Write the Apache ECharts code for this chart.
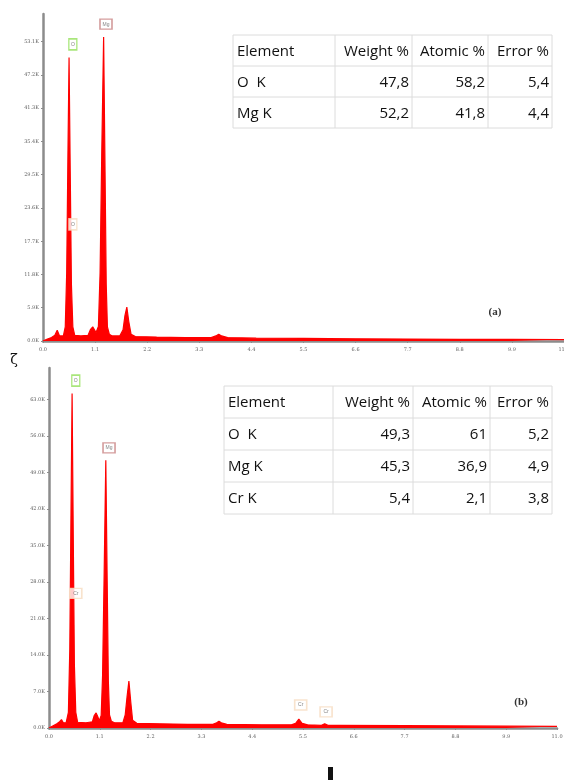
<!DOCTYPE html>
<html>
<head>
<meta charset="utf-8">
<script src="https://cdn.jsdelivr.net/npm/echarts@6/dist/echarts.min.js"></script>
<style>
  html, body { margin: 0; padding: 0; background: #fff; }
  #chart { width: 564px; height: 780px; }
</style>
</head>
<body>
<div id="chart"></div>
<script>
// EDS spectrum (a): [keV, counts in K]
const spectrumA = [
  [0.00, 0], [0.08, 0.3], [0.18, 0.6], [0.25, 1.0], [0.30, 1.9], [0.35, 0.9],
  [0.43, 0.9], [0.47, 2.5], [0.50, 12], [0.525, 32], [0.55, 50.3], [0.575, 30],
  [0.60, 10], [0.63, 2.5], [0.67, 1.0], [0.80, 0.9], [0.95, 1.0], [1.00, 2.0],
  [1.05, 2.5], [1.08, 2.2], [1.12, 1.5], [1.17, 2.6], [1.205, 12], [1.24, 33],
  [1.28, 53.9], [1.31, 30], [1.335, 10], [1.36, 2.5], [1.40, 1.2], [1.46, 0.9],
  [1.62, 0.9], [1.69, 2.0], [1.73, 4.5], [1.77, 6.0], [1.81, 3.5], [1.86, 1.2],
  [1.95, 0.8], [2.40, 0.7], [3.00, 0.6], [3.55, 0.6], [3.65, 0.9], [3.71, 1.2],
  [3.77, 0.9], [3.90, 0.6], [4.50, 0.5], [5.50, 0.45], [6.60, 0.4], [7.70, 0.35],
  [8.80, 0.3], [9.90, 0.3], [11.0, 0.25]
];
// EDS spectrum (b)
const spectrumB = [
  [0.00, 0], [0.08, 0.4], [0.17, 0.8], [0.23, 1.2], [0.27, 1.6], [0.31, 1.0],
  [0.37, 1.0], [0.42, 3], [0.45, 15], [0.475, 40], [0.50, 64.1], [0.525, 37],
  [0.55, 12], [0.58, 3], [0.62, 1.1], [0.80, 1.0], [0.94, 1.2], [0.98, 2.4],
  [1.02, 2.9], [1.05, 2.3], [1.09, 1.4], [1.13, 2.4], [1.16, 10], [1.195, 30],
  [1.23, 51.3], [1.26, 28], [1.285, 9], [1.31, 2.5], [1.35, 1.3], [1.42, 1.0],
  [1.60, 1.0], [1.65, 2.5], [1.69, 6], [1.73, 9.0], [1.77, 5], [1.81, 1.5],
  [1.90, 0.9], [2.40, 0.8], [3.00, 0.7], [3.55, 0.7], [3.63, 1.0], [3.68, 1.3],
  [3.73, 1.0], [3.85, 0.7], [4.60, 0.6], [5.25, 0.6], [5.34, 0.9], [5.41, 1.7],
  [5.48, 0.9], [5.60, 0.6], [5.90, 0.5], [5.97, 0.8], [6.04, 0.5], [6.30, 0.5],
  [7.70, 0.45], [8.80, 0.4], [9.90, 0.35], [11.0, 0.3]
];

// peak labels [text, keV, K]
const peakLabelsA = [['O', 0.63, 52.6], ['Mg', 1.33, 56.2]];
const minorLabelsA = [['O', 0.63, 20.7]];
const peakLabelsB = [['O', 0.58, 66.6], ['Mg', 1.30, 53.7]];
const minorLabelsB = [['Cr', 0.58, 25.8], ['Cr', 5.45, 4.4], ['Cr', 6.0, 3.1]];

// axis settings
const xMax = 11.0, xStep = 1.1;
const yStepA = 5.9, yMaxA = 58;
const yStepB = 7.0, yMaxB = 69;

// quantification tables
const tableHeader = ['Element', 'Weight %', 'Atomic %', 'Error %'];
const elementsA = ['O  K', 'Mg K'];
const weightA = ['47,8', '52,2'];
const atomicA = ['58,2', '41,8'];
const errorA = ['5,4', '4,4'];
const elementsB = ['O  K', 'Mg K', 'Cr K'];
const weightB = ['49,3', '45,3', '5,4'];
const atomicB = ['61', '36,9', '2,1'];
const errorB = ['5,2', '4,9', '3,8'];

const chart = echarts.init(document.getElementById('chart'));

const RED = '#ff0000';
const axisGray = '#8c8c8c';
const tickFont = { fontSize: 5, color: '#5f5f5f', fontFamily: 'DejaVu Serif' };

function xAxisOf(gi) {
  return {
    type: 'value', gridIndex: gi, min: 0, max: xMax, interval: xStep,
    axisLine: { lineStyle: { color: axisGray, width: 2.5 } },
    axisTick: { show: true, length: 2, lineStyle: { color: axisGray } },
    axisLabel: Object.assign({ margin: 6, formatter: v => v.toFixed(1) }, tickFont),
    splitLine: { show: false }
  };
}
function yAxisOf(gi, step, max) {
  return {
    type: 'value', gridIndex: gi, min: 0, max: max, interval: step,
    axisLine: { show: true, lineStyle: { color: axisGray, width: 2.5 } },
    axisTick: { show: true, length: 2, lineStyle: { color: axisGray } },
    axisLabel: Object.assign({ margin: 4, showMaxLabel: false, formatter: v => v.toFixed(1) + 'K' }, tickFont),
    splitLine: { show: false }
  };
}
function spectrum(data, gi) {
  return {
    type: 'line', xAxisIndex: gi, yAxisIndex: gi, data: data,
    showSymbol: false, silent: true,
    lineStyle: { color: RED, width: 1.2 },
    areaStyle: { color: RED, opacity: 1 },
    z: 2
  };
}
function boxes(list, gi, border) {
  return {
    type: 'scatter', xAxisIndex: gi, yAxisIndex: gi,
    data: list.map(d => ({ value: [d[1], d[2]], name: d[0] })),
    symbol: 'rect',
    symbolSize: (v, p) => p.name.length > 1 ? [12, 10] : [8, 11],
    itemStyle: { color: '#fff', borderColor: border, borderWidth: 1.5 },
    label: { show: true, position: 'inside', formatter: p => p.name, fontSize: 5, color: '#666' },
    z: 5
  };
}

// table built from the arrays
function table(colEdges, y, rowH, rows) {
  const els = [];
  const x0 = colEdges[0], x1 = colEdges[colEdges.length - 1];
  const h = rowH * rows.length;
  const line = { stroke: '#dcdcdc', lineWidth: 1 };
  els.push({ type: 'rect', shape: { x: x0, y: y, width: x1 - x0, height: h },
    style: { fill: '#fff', stroke: '#dcdcdc', lineWidth: 1 }, z: 10 });
  for (let r = 1; r < rows.length; r++) {
    els.push({ type: 'line', shape: { x1: x0, y1: y + r * rowH, x2: x1, y2: y + r * rowH }, style: line, z: 11 });
  }
  for (let c = 1; c < colEdges.length - 1; c++) {
    els.push({ type: 'line', shape: { x1: colEdges[c], y1: y, x2: colEdges[c], y2: y + h }, style: line, z: 11 });
  }
  rows.forEach((row, r) => {
    row.forEach((txt, c) => {
      const left = c === 0;
      els.push({ type: 'text', z: 12,
        style: {
          text: txt,
          x: left ? x0 + 4 : colEdges[c + 1] - 3,
          y: y + r * rowH + rowH / 2 + 1,
          align: left ? 'left' : 'right', verticalAlign: 'middle',
          font: '15px "Open Sans"', fill: '#111'
        } });
    });
  });
  return els;
}
const rowsA = [tableHeader].concat(elementsA.map((e, i) => [e, weightA[i], atomicA[i], errorA[i]]));
const rowsB = [tableHeader].concat(elementsB.map((e, i) => [e, weightB[i], atomicB[i], errorB[i]]));

const option = {
  backgroundColor: '#fff',
  animation: false,
  grid: [
    { left: 43, top: 14, width: 521, height: 327, outerBoundsMode: 'none' },
    { left: 49, top: 368, width: 508, height: 360, outerBoundsMode: 'none' }
  ],
  xAxis: [xAxisOf(0), xAxisOf(1)],
  yAxis: [yAxisOf(0, yStepA, yMaxA), yAxisOf(1, yStepB, yMaxB)],
  series: [
    spectrum(spectrumA, 0),
    spectrum(spectrumB, 1),
    boxes(peakLabelsA.slice(0, 1), 0, '#93e05a'),
    boxes(peakLabelsA.slice(1), 0, '#c98585'),
    boxes(minorLabelsA, 0, '#f6dcc0'),
    boxes(peakLabelsB.slice(0, 1), 1, '#93e05a'),
    boxes(peakLabelsB.slice(1), 1, '#c98585'),
    boxes(minorLabelsB, 1, '#f6dcc0')
  ],
  graphic: [].concat(
    table([233, 335, 412, 488, 552], 35, 31, rowsA),
    table([224, 333, 413, 490, 552], 386, 32, rowsB),
    [
      { type: 'text', style: { text: '(a)', x: 495, y: 312, align: 'center', verticalAlign: 'middle',
        font: 'bold 11px "Liberation Serif"', fill: '#333' } },
      { type: 'text', style: { text: '(b)', x: 521, y: 702, align: 'center', verticalAlign: 'middle',
        font: 'bold 11px "Liberation Serif"', fill: '#333' } },
      { type: 'text', style: { text: 'ζ', x: 14, y: 360, align: 'center', verticalAlign: 'middle',
        font: '14px "DejaVu Serif"', fill: '#111' } },
      { type: 'rect', shape: { x: 328, y: 767, width: 5, height: 13 }, style: { fill: '#111' } }
    ]
  )
};
chart.setOption(option);
</script>
</body>
</html>
